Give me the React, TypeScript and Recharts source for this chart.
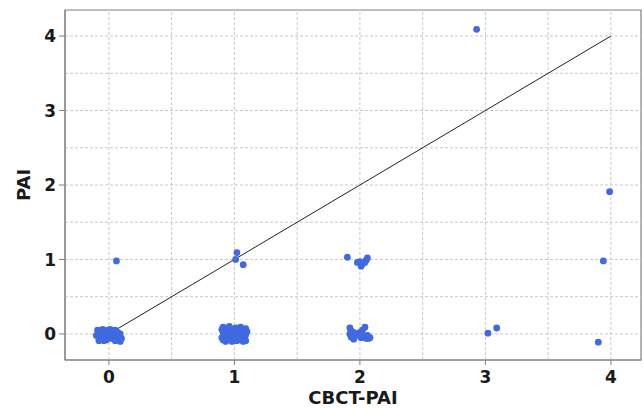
import React from 'react';
import {
  ScatterChart,
  Scatter,
  XAxis,
  YAxis,
  ReferenceLine,
  ReferenceArea,
} from 'recharts';

// CBCT-PAI scores (jittered around the integer score)
const cbctPai = [
  // 0 / 0
  -0.09, -0.07, -0.05, -0.03, -0.01, 0.01, 0.03, 0.05, 0.07, 0.09,
  -0.1, -0.08, -0.06, -0.04, -0.02, 0.0, 0.02, 0.04, 0.06, 0.08, 0.1,
  -0.08, -0.04, 0.0, 0.05, 0.09,
  // 1 / 0
  0.91, 0.96, 1.01, 1.05, 1.09,
  0.93, 0.98, 1.03, 1.07, 0.9,
  0.91, 0.95, 1.0, 1.04, 1.08, 1.1,
  0.92, 0.97, 1.02, 1.06, 1.09,
  0.9, 0.94, 0.99, 1.03, 1.08,
  0.91, 0.96, 1.0, 1.05, 1.09,
  0.93, 0.98, 1.02, 1.07,
  // 2 / 0
  1.92, 1.93, 1.92, 1.93, 1.95, 1.95, 1.94,
  2.04, 2.02, 2.0, 1.99, 2.01, 2.03, 2.05, 2.07, 2.08, 2.06, 1.97,
  // 2 / 1
  1.9, 2.0, 2.02, 2.01, 2.04, 2.05, 2.06, 1.98,
  // 1 / 1
  1.02, 1.01, 1.07,
  // others
  0.06, 2.93, 3.02, 3.09, 3.9, 3.94, 3.99,
];

// PAI scores, same order
const pai = [
  0.05, 0.03, 0.06, 0.04, 0.05, 0.06, 0.04, 0.05, 0.02, 0.0,
  -0.02, -0.05, -0.01, -0.04, -0.08, -0.03, -0.06, -0.02, -0.07, -0.04, -0.06,
  -0.09, -0.09, 0.01, -0.09, -0.1,
  0.09, 0.1, 0.08, 0.09, 0.07,
  0.05, 0.06, 0.04, 0.05, 0.06,
  0.02, 0.01, 0.03, 0.02, 0.01, 0.03,
  -0.02, -0.01, -0.03, -0.02, -0.01,
  -0.05, -0.06, -0.04, -0.05, -0.06,
  -0.08, -0.07, -0.09, -0.08, -0.09,
  -0.1, -0.1, -0.09, -0.1,
  0.08, 0.04, 0.0, -0.04, -0.07, 0.02, -0.02,
  0.09, 0.05, 0.02, -0.02, -0.05, -0.03, -0.06, -0.06, -0.05, -0.02, 0.0,
  1.03, 0.97, 0.94, 0.91, 0.96, 0.99, 1.02, 0.96,
  1.09, 1.0, 0.93,
  0.98, 4.09, 0.01, 0.08, -0.11, 0.98, 1.91,
];

const scoreTicks = [0, 1, 2, 3, 4];
const gridSteps = [0, 0.5, 1, 1.5, 2, 2.5, 3, 3.5, 4];

const xDomain = [-0.35, 4.24];
const yDomain = [-0.35, 4.35];

const points = cbctPai.map((x, i) => ({ x, y: pai[i] }));

const FONT = '"DejaVu Sans", Verdana, sans-serif';
const tickStyle = { fontFamily: FONT, fontSize: 17, fontWeight: 700, fill: '#1a1a1a' };
const titleStyle = { fontFamily: FONT, fontSize: 18, fontWeight: 700, fill: '#1a1a1a' };

const Dot = (props: any) => <circle cx={props.cx} cy={props.cy} r={3.4} fill="#4169E1" />;

const YLabel = ({ viewBox }: any) => {
  const x = viewBox.x + 23;
  const y = viewBox.y + viewBox.height / 2;
  return (
    <text
      x={x}
      y={y}
      transform={`rotate(-90, ${x}, ${y})`}
      textAnchor="middle"
      dominantBaseline="central"
      style={titleStyle}
    >
      PAI
    </text>
  );
};

export default function App() {
  return (
    <div style={{ position: 'absolute', left: 0, top: 0, background: '#fff' }}>
      <ScatterChart width={644} height={408} margin={{ top: 10, right: 3, bottom: 0, left: 0 }}>
        {gridSteps.map((v) => (
          <ReferenceLine key={`gx${v}`} x={v} stroke="#c9c9c9" strokeDasharray="3 2" />
        ))}
        {gridSteps.map((v) => (
          <ReferenceLine key={`gy${v}`} y={v} stroke="#c9c9c9" strokeDasharray="3 2" />
        ))}
        <XAxis
          type="number"
          dataKey="x"
          domain={xDomain}
          ticks={scoreTicks}
          allowDataOverflow
          height={48}
          tickSize={5}
          tickMargin={6}
          tick={tickStyle}
          stroke="#808080"
          label={{
            value: 'CBCT-PAI',
            position: 'insideBottom',
            offset: 4,
            style: titleStyle,
          }}
        />
        <YAxis
          type="number"
          dataKey="y"
          domain={yDomain}
          ticks={scoreTicks}
          allowDataOverflow
          width={65}
          tickSize={6}
          tickMargin={3}
          tick={tickStyle}
          stroke="#808080"
          label={{ content: YLabel }}
        />
        <ReferenceArea
          x1={xDomain[0]}
          x2={xDomain[1]}
          y1={yDomain[0]}
          y2={yDomain[1]}
          fill="none"
          stroke="#808080"
          strokeWidth={1.2}
        />
        <Scatter data={points} shape={Dot} isAnimationActive={false} />
        <ReferenceLine
          segment={[{ x: 0, y: 0 }, { x: 4, y: 4 }]}
          stroke="#222"
          strokeWidth={1}
        />
      </ScatterChart>
    </div>
  );
}
